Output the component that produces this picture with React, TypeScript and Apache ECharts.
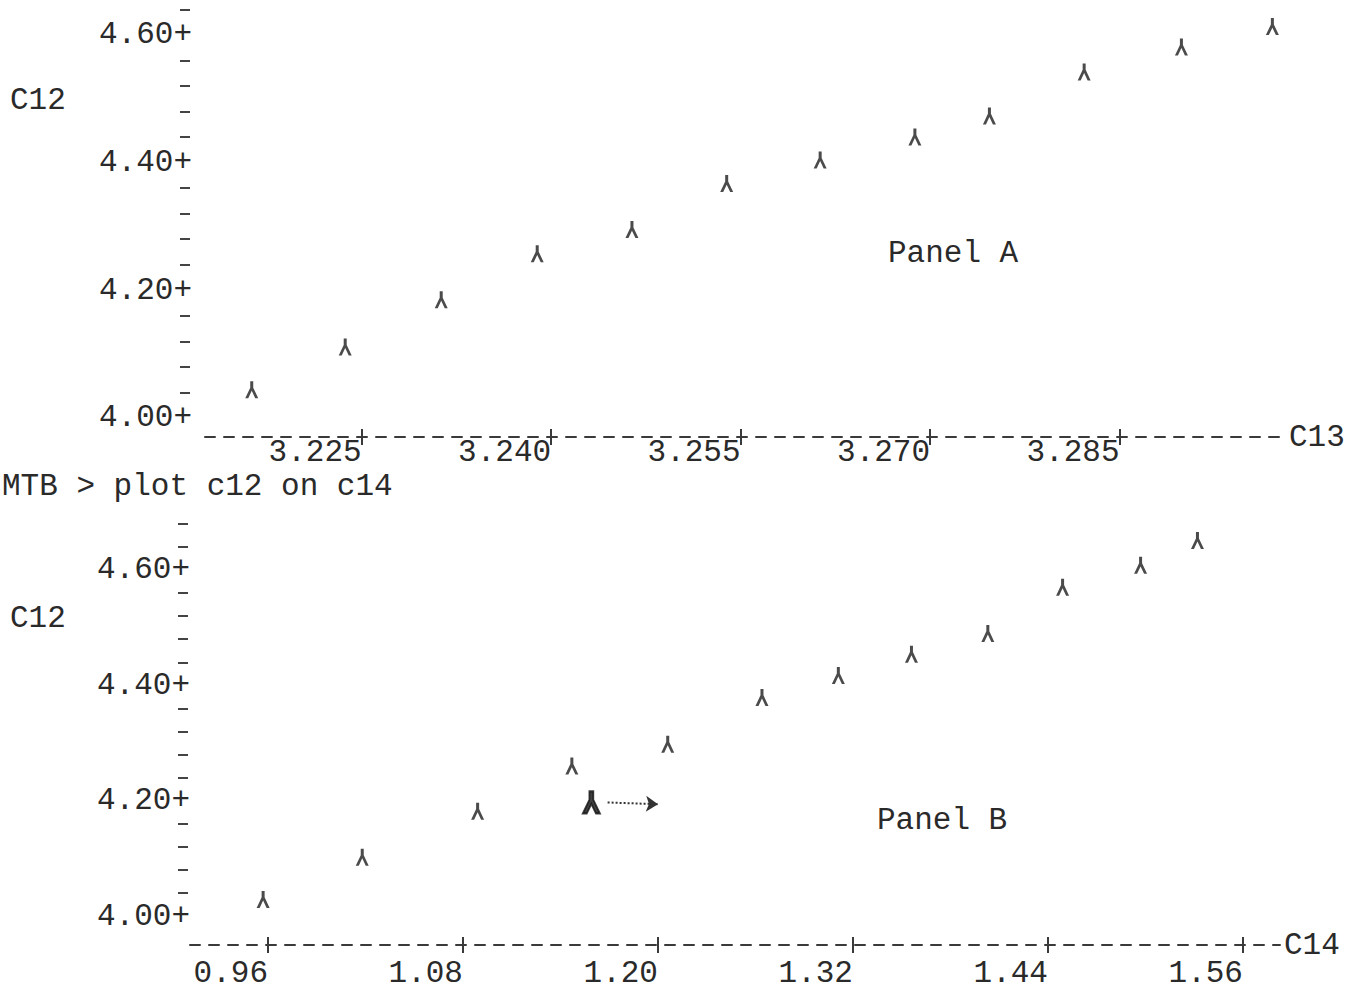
import React, { useEffect, useRef } from "react";
import * as echarts from "echarts";

// Panel A: C12 plotted against C13
const c13 = [3.2163, 3.2237, 3.2313, 3.2389, 3.2464, 3.2539, 3.2613, 3.2688, 3.2747, 3.2822, 3.2899, 3.2971];
const c12A = [4.044, 4.111, 4.185, 4.257, 4.295, 4.367, 4.404, 4.44, 4.473, 4.542, 4.581, 4.613];

// Panel B: C12 plotted against C14
const c14 = [0.957, 1.018, 1.089, 1.147, 1.206, 1.264, 1.311, 1.356, 1.403, 1.449, 1.497, 1.532];
const c12B = [4.029, 4.102, 4.182, 4.26, 4.298, 4.379, 4.417, 4.454, 4.49, 4.57, 4.608, 4.651];

// hand-marked point with arrow in panel B
const markedPoint = [1.159, 4.197];
const arrowEnd = [1.2, 4.194];

// tick labels
const xTicksA = [3.225, 3.24, 3.255, 3.27, 3.285];
const xTicksB = [0.96, 1.08, 1.2, 1.32, 1.44, 1.56];
const yTicks = [4.0, 4.2, 4.4, 4.6];
const yMinorA = [4.04, 4.08, 4.12, 4.16, 4.24, 4.28, 4.32, 4.36, 4.44, 4.48, 4.52, 4.56, 4.64];
const yMinorB = [4.04, 4.08, 4.12, 4.16, 4.24, 4.28, 4.32, 4.36, 4.44, 4.48, 4.52, 4.56, 4.64, 4.68];

const FONT = '"Liberation Mono", "DejaVu Sans Mono", monospace';
const INK = "#2a2a2a";
const STAR = "path://M5,0 L8,0 L8,6 L13,16 L10,16 L6.5,9 L3,16 L0,16 L5,6 Z";

function xAxisPair(gridIndex: number, min: number, max: number, ticks: number[], digits: number, name: string, margin: number) {
  const main = {
    type: "value",
    gridIndex,
    position: "bottom",
    min,
    max,
    name,
    nameLocation: "end",
    nameGap: 4,
    nameTextStyle: { fontFamily: FONT, fontSize: 31, color: INK, verticalAlign: "middle" },
    axisLine: { show: true, lineStyle: { color: "#3a3a3a", width: 2, type: [10, 9] } },
    axisTick: { show: true, customValues: ticks, length: 8, lineStyle: { color: "#3a3a3a", width: 2 } },
    axisLabel: {
      show: true,
      customValues: ticks,
      formatter: (v: number) => v.toFixed(digits),
      align: "right",
      margin,
      lineHeight: 20,
      fontFamily: FONT,
      fontSize: 31,
      color: INK,
    },
    splitLine: { show: false },
  };
  const overlay = {
    type: "value",
    gridIndex,
    position: "bottom",
    offset: 0,
    min,
    max,
    axisLine: { show: false },
    axisTick: { show: true, inside: true, customValues: ticks, length: 8, lineStyle: { color: "#3a3a3a", width: 2 } },
    axisLabel: { show: false },
    splitLine: { show: false },
  };
  return [main, overlay];
}

function yAxisFor(gridIndex: number, min: number, max: number, minor: number[], offset: number) {
  return {
    type: "value",
    gridIndex,
    min,
    max,
    offset,
    axisLine: { show: false },
    axisTick: { show: true, customValues: minor, length: 10, lineStyle: { color: "#444", width: 2 } },
    axisLabel: {
      show: true,
      customValues: yTicks,
      formatter: (v: number) => v.toFixed(2) + "+",
      margin: -2,
      fontFamily: FONT,
      fontSize: 31,
      color: INK,
    },
    splitLine: { show: false },
  };
}

function txt(text: string, x: number, y: number) {
  return {
    type: "text",
    x,
    y,
    style: {
      text,
      fontFamily: FONT,
      fontSize: 31,
      lineHeight: 20,
      fill: INK,
      verticalAlign: "middle",
      align: "left",
    },
  };
}

export default function App() {
  const ref = useRef<HTMLDivElement>(null);
  useEffect(() => {
    document.body.style.margin = "0";
    const chart = echarts.init(ref.current!, undefined, { renderer: "svg" });
    const [xa, xa2] = xAxisPair(0, 3.2126, 3.2981, xTicksA, 3, "C13", 5);
    const [xb, xb2] = xAxisPair(1, 0.912, 1.5828, xTicksB, 2, "C14", 18);
    chart.setOption({
      animation: false,
      backgroundColor: "#ffffff",
      textStyle: { fontFamily: FONT },
      grid: [
        { left: 205, top: 3, width: 1080, height: 434, outerBoundsMode: "none" },
        { left: 190, top: 518, width: 1090, height: 427, outerBoundsMode: "none" },
      ],
      xAxis: [xa, xa2, xb, xb2],
      yAxis: [yAxisFor(0, 3.97, 4.65, yMinorA, 15), yAxisFor(1, 3.95, 4.69, yMinorB, 2)],
      graphic: [
        txt("C12", 10, 100),
        txt("C12", 10, 618),
        txt("MTB > plot c12 on c14", 2, 486),
        txt("Panel A", 888, 253),
        txt("Panel B", 877, 820),
      ],
      series: [
        {
          type: "scatter",
          name: "Panel A",
          xAxisIndex: 0,
          yAxisIndex: 0,
          symbol: STAR,
          symbolSize: [13, 17],
          itemStyle: { color: "#1e1e1e" },
          data: c13.map((x, i) => [x, c12A[i]]),
        },
        {
          type: "scatter",
          name: "Panel B",
          xAxisIndex: 2,
          yAxisIndex: 1,
          symbol: STAR,
          symbolSize: [13, 17],
          itemStyle: { color: "#1e1e1e" },
          data: c14.map((x, i) => [x, c12B[i]]),
        },
        {
          type: "scatter",
          name: "marked",
          xAxisIndex: 2,
          yAxisIndex: 1,
          symbol: STAR,
          symbolSize: [17, 22],
          itemStyle: { color: "#111", borderColor: "#111", borderWidth: 2 },
          data: [markedPoint],
          markLine: {
            silent: true,
            symbol: ["none", "arrow"],
            symbolSize: 12,
            label: { show: false },
            lineStyle: { type: "dotted", color: "#333", width: 2 },
            data: [[{ coord: [markedPoint[0] + 0.01, markedPoint[1]] }, { coord: arrowEnd }]],
          },
        },
      ],
    });
    return () => chart.dispose();
  }, []);
  return (
    <div
      ref={ref}
      style={{ position: "fixed", left: 0, top: 0, width: 1355, height: 1003, background: "#fff" }}
    />
  );
}
